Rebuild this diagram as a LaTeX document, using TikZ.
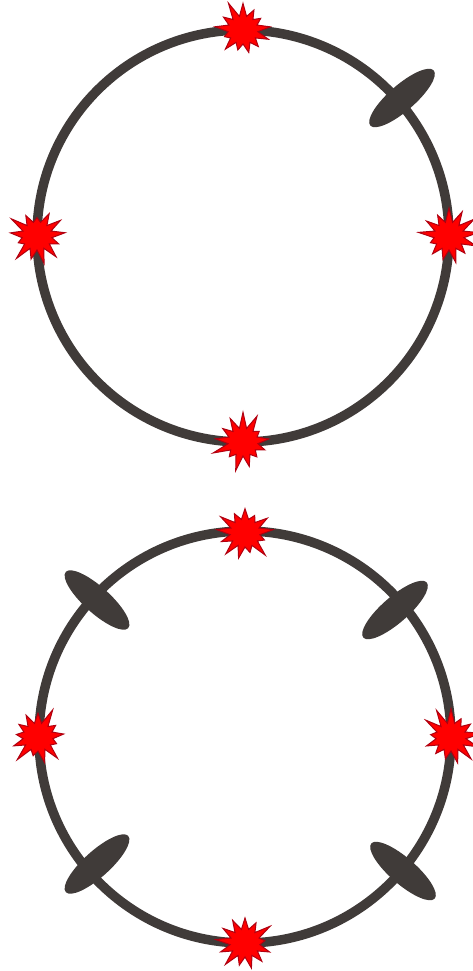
\documentclass[tikz,border=0pt]{standalone}
\usetikzlibrary{shapes.symbols,shapes.geometric}
\definecolor{ringgray}{HTML}{403B39}
\definecolor{burstred}{HTML}{FF0000}
\definecolor{burstedge}{HTML}{B00010}
\tikzset{
  ring/.style={draw=ringgray, line width=9.5pt},
  burst/.style={starburst, starburst points=13, starburst point height=17pt,
    minimum width=64pt, minimum height=62pt, inner sep=0pt,
    fill=burstred, draw=burstedge, line width=1pt},
  blob/.style={ellipse, fill=ringgray, draw=none, minimum width=84pt,
    minimum height=26pt, inner sep=0pt},
}
\begin{document}
\begin{tikzpicture}[x=1pt,y=-1pt]
\useasboundingbox (0,0) rectangle (472,971);
% top ring
\coordinate (c1) at (243,236);
\draw[ring] (c1) circle[radius=206];
\node[blob, rotate=41] (e1) at (402,98) {};
\node[burst, random starburst=11] (t1) at (243,30) {};
\node[burst, random starburst=23] (l1) at (37,236) {};
\node[burst, random starburst=37] (r1) at (449,236) {};
\node[burst, random starburst=53] (b1) at (243,442) {};
% bottom ring
\coordinate (c2) at (245,737);
\draw[ring] (c2) circle[radius=206];
\node[blob, rotate=-42] (e2) at (97,600) {};
\node[blob, rotate=41] (e3) at (395,610) {};
\node[blob, rotate=42] (e4) at (97,864) {};
\node[blob, rotate=-41] (e5) at (403,871) {};
\node[burst, random starburst=61] (t2) at (245,533) {};
\node[burst, random starburst=71] (l2) at (38,737) {};
\node[burst, random starburst=83] (r2) at (451,737) {};
\node[burst, random starburst=97] (b2) at (245,943) {};
\end{tikzpicture}
\end{document}
